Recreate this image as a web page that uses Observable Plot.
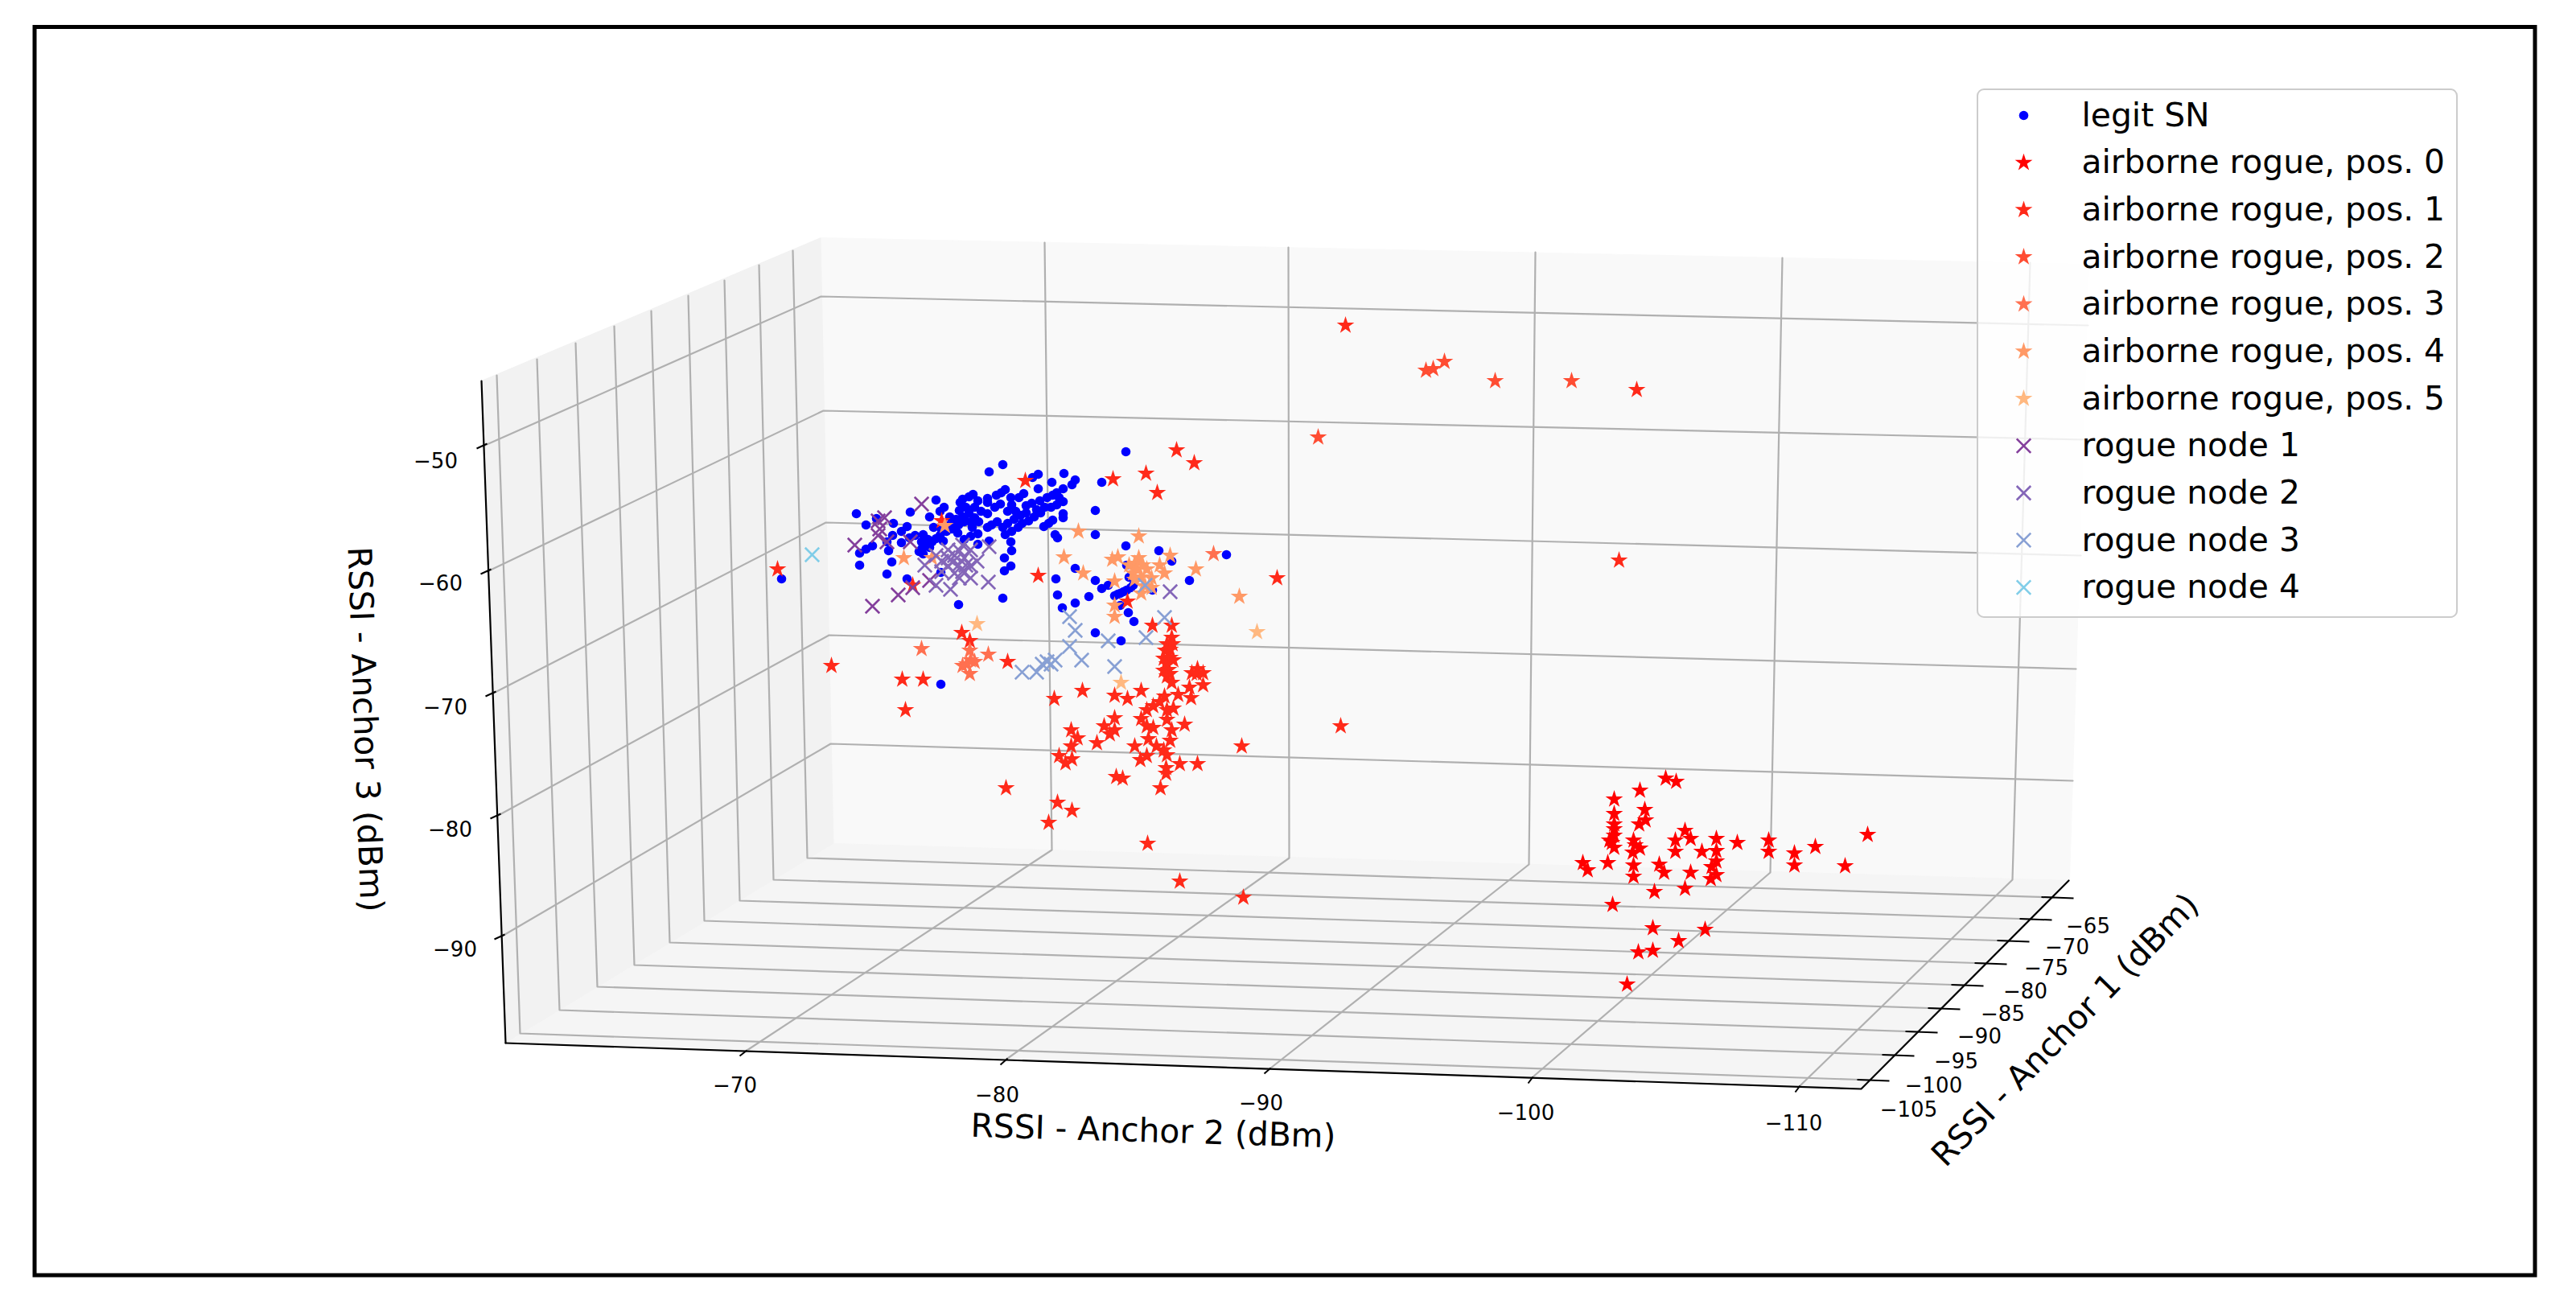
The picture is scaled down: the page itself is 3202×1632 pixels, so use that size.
<!DOCTYPE html>
<html>
<head>
<meta charset="utf-8">
<script src="https://cdn.jsdelivr.net/npm/d3@7"></script>
<script src="https://cdn.jsdelivr.net/npm/@observablehq/plot@0.6"></script>
<style>html,body{margin:0;padding:0;background:#fff;overflow:hidden}svg{display:block}</style>
</head>
<body>
<div id="chart"></div>
<script>
// Readings from the picture, in the projected plane of the 3D view
const legitSN = [[1399,561],[1246,577],[1229,586],[1322,588],[1290,589],[1283,593],[1336,596],[1332,602],[1307,599],[1369,599],[1290,607],[1321,607],[1313,612],[1249,608],[1244,612],[1209,614],[1204,617],[1196,620],[1193,624],[1227,619],[1227,624],[1272,613],[1266,618],[1308,615],[1301,618],[1292,622],[1321,623],[1313,627],[1306,630],[1163,621],[1243,626],[1236,630],[1257,627],[1275,628],[1211,630],[1173,630],[1168,635],[1131,636],[1064,638],[1361,634],[1227,638],[1204,637],[1196,642],[1188,645],[1155,642],[1262,635],[1275,637],[1293,637],[1285,642],[1278,647],[1270,650],[1260,645],[1321,638],[1321,643],[1308,646],[1303,650],[1297,654],[1265,655],[1257,660],[1249,664],[1239,648],[1232,652],[1227,655],[1216,648],[1206,648],[1198,648],[1191,652],[1183,657],[1176,660],[1168,665],[1163,669],[1158,673],[1150,677],[1145,682],[1147,688],[1160,655],[1110,650],[1076,652],[1089,644],[1127,654],[1120,660],[1147,664],[1137,665],[1130,668],[1120,674],[1109,665],[1102,673],[1104,684],[1084,678],[1076,682],[1068,687],[1311,664],[1314,668],[1361,664],[1215,663],[1206,666],[1198,670],[1229,672],[1215,676],[1256,673],[1257,684],[1248,693],[1256,703],[1248,709],[1068,702],[1108,698],[1102,713],[1127,719],[1169,711],[971,719],[1246,743],[1191,751],[1399,678],[1440,684],[1456,697],[1524,689],[1478,721],[1336,706],[1312,719],[1361,721],[1369,731],[1377,727],[1314,739],[1353,741],[1336,749],[1320,755],[1385,740],[1392,737],[1400,733],[1408,727],[1403,717],[1400,702],[1432,733],[1402,761],[1409,772],[1361,786],[1393,796],[1169,850],[1392,752],[1252,635],[1288,633],[1298,630],[1186,648],[1178,653],[1170,658],[1153,670],[1145,673],[1198,643],[1211,643],[1219,635],[1155,680],[1142,685],[1389,738],[1396,735],[1405,730],[1180,642],[1192,634],[1200,630],[1215,622],[1238,615],[1256,618],[1282,625],[1316,618],[1268,640],[1252,650],[1246,655],[1208,655],[1190,662],[1172,672]];
const airbornePos0 = [[2070,967],[2083,971],[2038,982],[2006,993],[2044,1006],[2006,1011],[2045,1019],[2037,1024],[2006,1024],[2006,1030],[2006,1038],[2000,1044],[2003,1047],[2006,1053],[2030,1044],[2032,1050],[2038,1054],[2029,1059],[2030,1075],[2030,1089],[2094,1032],[2101,1042],[2082,1044],[2082,1058],[2115,1058],[2133,1042],[2133,1057],[2133,1070],[2127,1077],[2133,1087],[2126,1092],[2159,1047],[2198,1044],[2198,1058],[2230,1060],[2230,1075],[2256,1052],[2321,1037],[2293,1076],[1967,1072],[1973,1081],[1998,1072],[2062,1074],[2068,1084],[2101,1084],[2094,1104],[2056,1108],[2004,1124],[2054,1153],[2119,1155],[2086,1169],[2054,1181],[2036,1183],[2022,1223]];
const airbornePos1 = [[1456,777],[1456,792],[1450,800],[1448,808],[1454,817],[1450,825],[1452,832],[1450,840],[1456,848],[1457,800],[1454,807],[1458,820],[1454,837],[1446,833],[1446,818],[1481,836],[1488,831],[1495,836],[1487,837],[1495,851],[1478,854],[1480,867],[1464,863],[1432,777],[1447,865],[1441,872],[1433,877],[1425,882],[1458,880],[1450,882],[1450,894],[1418,893],[1425,902],[1433,904],[1456,907],[1472,900],[1454,920],[1427,918],[1437,927],[1446,932],[1450,938],[1410,927],[1425,939],[1417,944],[1449,954],[1449,961],[1466,949],[1488,949],[1418,858],[1401,868],[1385,864],[1345,858],[1310,868],[1385,892],[1372,902],[1385,907],[1379,912],[1363,923],[1331,907],[1339,917],[1331,927],[1316,939],[1332,943],[1324,948],[1387,965],[1395,967],[1442,979],[1250,979],[1314,997],[1332,1007],[1303,1022],[1426,1048],[1466,1095],[1545,1115],[1543,927],[1666,902],[1252,822],[1121,844],[1147,844],[1125,882],[1401,747],[1134,727],[1290,715],[1587,718],[966,707],[1033,827],[1274,597],[1383,595],[1424,588],[1462,559],[1484,575],[1438,612],[1170,647],[1195,786],[1205,796],[1672,404],[2034,484],[2012,696]];
const airbornePos2 = [[1772,460],[1781,458],[1795,449],[1858,473],[1953,473],[1638,543]];
const airbornePos3 = [[1145,806],[1205,808],[1228,813],[1201,825],[1211,822],[1196,827],[1205,837],[1508,688],[1206,820]];
const airbornePos4 = [[1174,653],[1123,693],[1158,693],[1340,660],[1415,666],[1322,692],[1346,712],[1385,722],[1389,692],[1382,695],[1454,690],[1441,702],[1447,712],[1486,707],[1431,718],[1415,693],[1410,700],[1420,702],[1403,702],[1413,707],[1425,707],[1408,712],[1418,717],[1410,720],[1423,728],[1418,737],[1385,752],[1385,766],[1540,741],[1431,730]];
const airbornePos5 = [[1214,775],[1562,785],[1393,848]];
const rogueNode1 = [[1145,626],[1099,643],[1091,647],[1093,657],[1091,665],[1102,673],[1062,677],[1131,673],[1155,721],[1134,730],[1116,739],[1084,753]];
const rogueNode2 = [[1229,679],[1149,702],[1163,690],[1178,683],[1196,677],[1206,683],[1214,697],[1186,690],[1170,697],[1198,693],[1178,703],[1191,702],[1206,703],[1170,710],[1186,712],[1196,710],[1206,718],[1163,727],[1181,732],[1228,723],[1454,735],[1192,684],[1178,693],[1200,702],[1184,698],[1192,718]];
const rogueNode3 = [[1423,727],[1329,766],[1336,783],[1447,767],[1377,796],[1424,792],[1329,803],[1344,820],[1311,820],[1301,822],[1295,825],[1306,825],[1288,835],[1270,835],[1385,828]];
const rogueNode4 = [[1009,689]];

const seriesNames = ["legit SN","airborne rogue, pos. 0","airborne rogue, pos. 1","airborne rogue, pos. 2","airborne rogue, pos. 3","airborne rogue, pos. 4","airborne rogue, pos. 5","rogue node 1","rogue node 2","rogue node 3","rogue node 4"];
const seriesColors = ["#0000ff","#ff0000","#ff2a1a","#ff4d33","#ff7050","#ff9966","#ffb880","#843f9c","#8466b8","#88a0d4","#80cde8"];
const seriesSymbols = ["circle","star","star","star","star","star","star","times","times","times","times"];
const seriesData = [legitSN,airbornePos0,airbornePos1,airbornePos2,airbornePos3,airbornePos4,airbornePos5,rogueNode1,rogueNode2,rogueNode3,rogueNode4];

// 3D box, as it lands on the projected plane
const paneLeft = [[598,473],[1020,295],[1036,1048],[628,1296]];
const paneBack = [[1020,295],[2596,328],[2572,1094],[1036,1048]];
const paneFloor = [[1036,1048],[2572,1094],[2313,1353],[628,1296]];
const axisZ = [[598,473],[628,1296]];
const axisFront = [[628,1296],[2313,1353],[2571,1094]];

const anchor3Labels = ["−50","−60","−70","−80","−90"];
const anchor3Grid = [
  [[600,554],[1020,368],[2595,404]],
  [[605,710],[1023,510],[2590,546]],
  [[611,862],[1026,649],[2586,690]],
  [[617,1014],[1030,789],[2580,831]],
  [[622,1164],[1032,924],[2576,970]]];
const anchor3LabelAt = [[541,573],[547,725],[553,879],[559,1031],[565,1180]];

const anchor2Labels = ["−70","−80","−90","−100","−110"];
const anchor2Grid = [
  [[1298,301],[1307,1056],[928,1305]],
  [[1601,307],[1602,1066],[1252,1315]],
  [[1908,313],[1900,1074],[1579,1327]],
  [[2215,320],[2200,1084],[1905,1338]],
  [[2523,326],[2501,1093],[2237,1349]]];
const anchor2Ticks = [[928,1305,919,1312],[1252,1315,1243,1323],[1579,1327,1571,1334],[1905,1338,1899,1346],[2237,1349,2231,1357]];
const anchor2LabelAt = [[913,1349],[1239,1361],[1567,1371],[1896,1383],[2229,1396]];

const anchor1Labels = ["−65","−70","−75","−80","−85","−90","−95","−100","−105"];
const anchor1Grid = [
  [[985,311],[1003,1066],[2553,1115]],
  [[943,329],[961,1093],[2526,1142]],
  [[900,348],[919,1119],[2498,1169]],
  [[855,367],[875,1144],[2470,1197]],
  [[809,386],[832,1171],[2441,1224]],
  [[763,405],[788,1199],[2412,1253]],
  [[715,426],[742,1226],[2384,1282]],
  [[667,446],[695,1255],[2355,1311]],
  [[617,466],[646,1284],[2324,1342]]];
const anchor1LabelAt = [[2595,1151],[2569,1177],[2543,1203],[2517,1232],[2489,1260],[2460,1288],[2431,1319],[2403,1349],[2372,1379]];

const font = "DejaVu Sans";
const px = d => d[0], py = d => d[1];
const tickFont = {fontFamily: font, fontSize: 26, fill: "#000", textAnchor: "middle"};
const titleFont = {fontFamily: font, fontSize: 40.8, fill: "#000", textAnchor: "middle"};

const paneMark = (p, fill) => Plot.line(p, {x: px, y: py, fill, stroke: fill, strokeWidth: 1});
const gridMark = g => g.map(l => Plot.line(l, {x: px, y: py, stroke: "#b0b0b0", strokeWidth: 2.2}));
const labelMark = (at, labels) => Plot.text(at, {x: px, y: py, text: (d, i) => labels[i], ...tickFont});

const legendY = seriesNames.map((_, i) => 143 + i * 58.66);
const legendRows = seriesNames.map((name, i) => ({name, y: legendY[i], color: seriesColors[i], symbol: seriesSymbols[i]}));

const seriesMark = (data, color, symbol) => {
  if (symbol === "circle") return Plot.dot(data, {x: px, y: py, r: 5.8, fill: color, symbol: "circle"});
  if (symbol === "star") return Plot.dot(data, {x: px, y: py, r: 4.9, fill: color, stroke: color, strokeWidth: 2, symbol: "star"});
  return Plot.dot(data, {x: px, y: py, r: 8, stroke: color, strokeWidth: 2.6, fill: "none", symbol: "times"});
};

const chart = Plot.plot({
  width: 3202, height: 1632, margin: 0,
  style: {background: "#fff"},
  x: {domain: [0, 3202], range: [0, 3202], axis: null},
  y: {domain: [0, 1632], range: [0, 1632], axis: null},
  marks: [
    Plot.rect([{a: 43, b: 33.5, c: 3151, d: 1585}], {x1: "a", y1: "b", x2: "c", y2: "d", fill: "none", stroke: "#000", strokeWidth: 5}),
    paneMark(paneLeft, "#f2f2f2"),
    paneMark(paneBack, "#f9f9f9"),
    paneMark(paneFloor, "#f5f5f5"),
    gridMark(anchor3Grid),
    gridMark(anchor2Grid),
    gridMark(anchor1Grid),
    Plot.line(axisZ, {x: px, y: py, stroke: "#000", strokeWidth: 2.2}),
    Plot.line(axisFront, {x: px, y: py, stroke: "#000", strokeWidth: 2.2}),
    Plot.link(anchor3Grid, {x1: d => d[0][0] - 8, y1: d => d[0][1] + 3, x2: d => d[0][0] + 5, y2: d => d[0][1] - 3, stroke: "#000", strokeWidth: 2}),
    Plot.link(anchor2Ticks, {x1: d => d[0], y1: d => d[1], x2: d => d[2], y2: d => d[3], stroke: "#000", strokeWidth: 2}),
    Plot.link(anchor1Grid, {x1: d => d[2][0] - 16, y1: d => d[2][1] - 0.5, x2: d => d[2][0] + 24, y2: d => d[2][1] + 1, stroke: "#000", strokeWidth: 2}),
    labelMark(anchor3LabelAt, anchor3Labels),
    labelMark(anchor2LabelAt, anchor2Labels),
    labelMark(anchor1LabelAt, anchor1Labels),
    Plot.text([[1433, 1406]], {x: px, y: py, text: () => "RSSI - Anchor 2 (dBm)", rotate: 1.7, ...titleFont}),
    Plot.text([[453, 906]], {x: px, y: py, text: () => "RSSI - Anchor 3 (dBm)", rotate: 88, ...titleFont}),
    Plot.text([[2567, 1280]], {x: px, y: py, text: () => "RSSI - Anchor 1 (dBm)", rotate: -45.7, ...titleFont}),
    seriesData.map((d, i) => seriesMark(d, seriesColors[i], seriesSymbols[i])),
    Plot.rect([{a: 2458, b: 111, c: 3054, d: 767}], {x1: "a", y1: "b", x2: "c", y2: "d", fill: "#fff", fillOpacity: 0.8, stroke: "#cccccc", strokeWidth: 2, rx: 8}),
    seriesData.map((_, i) => seriesMark([[2515, legendY[i]]], seriesColors[i], seriesSymbols[i])),
    Plot.text(legendRows, {x: () => 2587, y: "y", text: "name", fontFamily: font, fontSize: 40.8, fill: "#000", textAnchor: "start"})
  ]
});
document.getElementById("chart").appendChild(chart);
</script>
</body>
</html>
